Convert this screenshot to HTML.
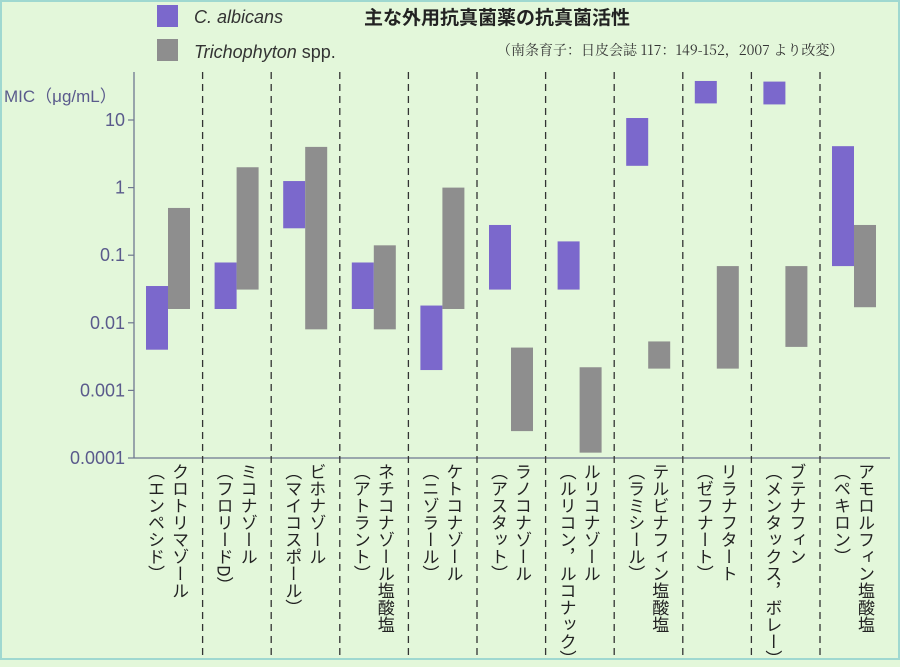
<!DOCTYPE html>
<html><head><meta charset="utf-8"><style>
html,body{margin:0;padding:0}
body{width:900px;height:660px;overflow:hidden;background:#e3f7da;font-family:"Liberation Sans","Noto Sans CJK JP",sans-serif}
#frame{position:absolute;left:0;top:0;width:896px;height:656px;border:2px solid #9fd8d0}
.lbl{position:absolute;top:463px;writing-mode:vertical-rl;font-size:17px;line-height:24px;color:#222;font-family:"Noto Sans CJK JP",sans-serif;letter-spacing:0px;white-space:pre}
</style></head><body>
<div id="frame"></div>
<svg width="900" height="660" style="position:absolute;left:0;top:0">
<g id="legend">
 <rect x="157" y="5" width="21" height="22" fill="#7b68cc"/>
 <text x="194" y="23" font-size="18" font-style="italic" fill="#333" font-family="Liberation Sans, sans-serif">C. albicans</text>
 <rect x="157" y="39" width="21" height="22" fill="#8e8e8e"/>
 <text x="194" y="58" font-size="18" fill="#333" font-family="Liberation Sans, sans-serif"><tspan font-style="italic">Trichophyton</tspan> spp.</text>
</g>
<text x="364" y="24" font-size="19" font-weight="bold" fill="#222" font-family="Noto Sans CJK JP, sans-serif">主な外用抗真菌薬の抗真菌活性</text>
<text x="497" y="55" font-size="14" fill="#333" font-family="Noto Serif CJK SC, serif">（南条育子：日皮会誌 117：149-152，2007 より改変）</text>
<text x="4" y="102" font-size="17" fill="#5a5a8c" font-family="Liberation Sans, Noto Sans CJK JP, sans-serif">MIC（μg/mL）</text>
<g id="axes"></g>
<g id="bars"></g>
</svg>
<div id="labels"></div>
<script>
const drugs=["クロトリマゾール","ミコナゾール","ビホナゾール","ネチコナゾール塩酸塩","ケトコナゾール","ラノコナゾール","ルリコナゾール","テルビナフィン塩酸塩","リラナフタート","ブテナフィン","アモロルフィン塩酸塩"];
const brands=["（エンペシド）","（フロリードD）","（マイコスポール）","（アトラント）","（ニゾラール）","（アスタット）","（ルリコン，ルコナック）","（ラミシール）","（ゼフナート）","（メンタックス，ボレー）","（ペキロン）"];
const albLow=[0.004,0.016,0.25,0.016,0.002,0.031,0.031,2.1,17.6,17,0.069];
const albHigh=[0.035,0.078,1.25,0.078,0.018,0.28,0.16,10.7,37.8,37,4.1];
const triLow=[0.016,0.031,0.008,0.008,0.016,0.00025,0.00012,0.0021,0.0021,0.0044,0.017];
const triHigh=[0.5,2,4,0.14,1,0.0043,0.0022,0.0053,0.069,0.069,0.28];
const tickVals=[10,1,0.1,0.01,0.001,0.0001];
const tickLabels=["10","1","0.1","0.01","0.001","0.0001"];
const NS="http://www.w3.org/2000/svg";
const x0=134,colW=68.6,yBase=458,dec=67.6;
const y=v=>yBase-(Math.log10(v)+4)*dec;
const xc=i=>x0+i*colW;
function mk(t,a,p){const e=document.createElementNS(NS,t);for(const k in a)e.setAttribute(k,a[k]);p.appendChild(e);return e;}
const ax=document.getElementById('axes');
const yl=mk('line',{x1:x0,y1:72,x2:x0,y2:yBase,stroke:'#6f7790','stroke-width':1.3},ax);


const xl=mk('line',{x1:x0,y1:yBase,x2:890,y2:yBase,stroke:'#6f7790','stroke-width':1.3},ax);


tickVals.forEach((v,i)=>{
 const tk=mk('line',{x1:x0-6,y1:y(v),x2:x0,y2:y(v),stroke:'#6f7790','stroke-width':1.2},ax);
 
 
 const t=mk('text',{x:x0-9,y:y(v)+6,'text-anchor':'end','font-size':18,fill:'#5a5a8c','font-family':'Liberation Sans, sans-serif'},ax);
 t.textContent=tickLabels[i];
 
 
});
for(let i=1;i<drugs.length;i++){
 const d=mk('line',{x1:xc(i),y1:72,x2:xc(i),y2:660,stroke:'#333','stroke-width':1.3,'stroke-dasharray':'7,5'},ax);
 
 
}
const bg=document.getElementById('bars');
const lb=document.getElementById('labels');
drugs.forEach((n,i)=>{
 const a=mk('rect',{x:xc(i)+12,y:y(albHigh[i]),width:22,height:y(albLow[i])-y(albHigh[i]),fill:'#7b68cc'},bg);
 
 
 const t=mk('rect',{x:xc(i)+34,y:y(triHigh[i]),width:22,height:y(triLow[i])-y(triHigh[i]),fill:'#8e8e8e'},bg);
 
 
 const d=document.createElement('div');
 d.className='lbl';
 d.style.left=(xc(i)+10)+'px';
 d.textContent=n+"\n"+brands[i];
 
 
 lb.appendChild(d);
});
</script>
</body></html>
